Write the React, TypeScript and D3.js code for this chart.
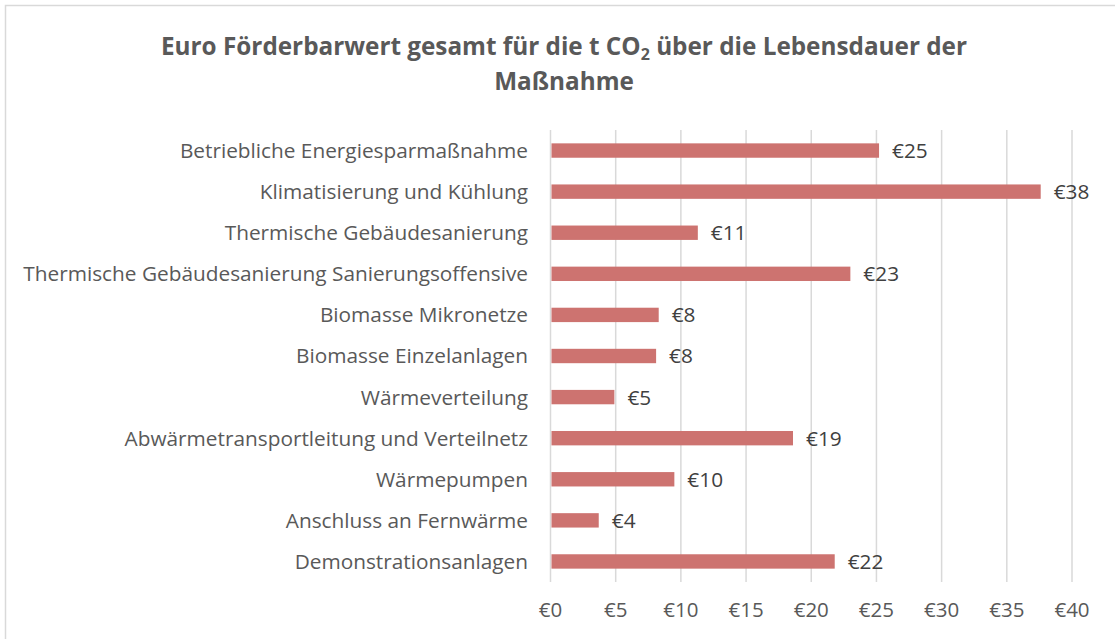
import React, { useEffect, useRef } from "react";
import * as d3 from "d3";

const categories = [
  "Betriebliche Energiesparmaßnahme",
  "Klimatisierung und Kühlung",
  "Thermische Gebäudesanierung",
  "Thermische Gebäudesanierung Sanierungsoffensive",
  "Biomasse Mikronetze",
  "Biomasse Einzelanlagen",
  "Wärmeverteilung",
  "Abwärmetransportleitung und Verteilnetz",
  "Wärmepumpen",
  "Anschluss an Fernwärme",
  "Demonstrationsanlagen",
];
const values = [25.2, 37.6, 11.3, 23.0, 8.3, 8.1, 4.9, 18.6, 9.5, 3.7, 21.8];
const xTicks = [0, 5, 10, 15, 20, 25, 30, 35, 40];

const W = 1115;
const H = 639;
const FONT = "'Open Sans', Lato, sans-serif";

export default function App() {
  const ref = useRef<SVGSVGElement>(null);
  useEffect(() => {
    const svg = d3.select(ref.current);
    svg.selectAll("*").remove();

    svg.append("rect").attr("width", W).attr("height", H).attr("fill", "#fff");
    svg
      .append("rect")
      .attr("x", 5.5)
      .attr("y", 5.5)
      .attr("width", W + 10)
      .attr("height", H + 10)
      .attr("fill", "none")
      .attr("stroke", "#d9d9d9")
      .attr("stroke-width", 1.5);

    const x = d3.scaleLinear().domain([0, 40]).range([550.5, 1072]);
    const y = d3.scaleBand<string>().domain(categories).range([130, 582]).paddingInner(0.65).paddingOuter(0.325);

    // title
    const title = svg
      .append("text")
      .attr("text-anchor", "middle")
      .attr("font-family", FONT)
      .attr("font-weight", "bold")
      .attr("font-size", 24.3)
      .attr("fill", "#595959");
    const l1 = title.append("tspan").attr("x", 564).attr("y", 55);
    l1.append("tspan").text("Euro Förderbarwert gesamt für die t CO");
    l1.append("tspan").attr("font-size", 16).attr("dy", 5).text("2");
    l1.append("tspan").attr("dy", -5).text(" über die Lebensdauer der");
    title.append("tspan").attr("x", 564).attr("y", 90).text("Maßnahme");

    // gridlines
    svg
      .append("g")
      .selectAll("line")
      .data(xTicks)
      .join("line")
      .attr("x1", (d) => x(d))
      .attr("x2", (d) => x(d))
      .attr("y1", 130)
      .attr("y2", 582)
      .attr("stroke", "#d9d9d9")
      .attr("stroke-width", 1.5);

    // x tick labels
    svg
      .append("g")
      .selectAll("text")
      .data(xTicks)
      .join("text")
      .attr("x", (d) => x(d))
      .attr("y", 617)
      .attr("text-anchor", "middle")
      .attr("font-family", FONT)
      .attr("font-size", 20.5)
      .attr("fill", "#595959")
      .text((d) => `€${d}`);

    // bars
    svg
      .append("g")
      .selectAll("rect")
      .data(values)
      .join("rect")
      .attr("x", x(0) + 1)
      .attr("y", (_, i) => y(categories[i])!)
      .attr("width", (d) => x(d) - x(0) - 1)
      .attr("height", y.bandwidth())
      .attr("fill", "#cd7370");

    // value labels
    svg
      .append("g")
      .selectAll("text")
      .data(values)
      .join("text")
      .attr("x", (d) => x(d) + 13)
      .attr("y", (_, i) => y(categories[i])! + y.bandwidth() / 2)
      .attr("dy", "0.36em")
      .attr("font-family", FONT)
      .attr("font-size", 20.8)
      .attr("fill", "#404040")
      .text((d) => `€${Math.round(d)}`);

    // category labels
    svg
      .append("g")
      .selectAll("text")
      .data(categories)
      .join("text")
      .attr("x", 528)
      .attr("y", (d) => y(d)! + y.bandwidth() / 2)
      .attr("dy", "0.36em")
      .attr("text-anchor", "end")
      .attr("font-family", FONT)
      .attr("font-size", 20.8)
      .attr("fill", "#595959")
      .text((d) => d);
  }, []);

  return (
    <svg
      ref={ref}
      width={W}
      height={H}
      style={{ position: "absolute", left: 0, top: 0 }}
    />
  );
}
